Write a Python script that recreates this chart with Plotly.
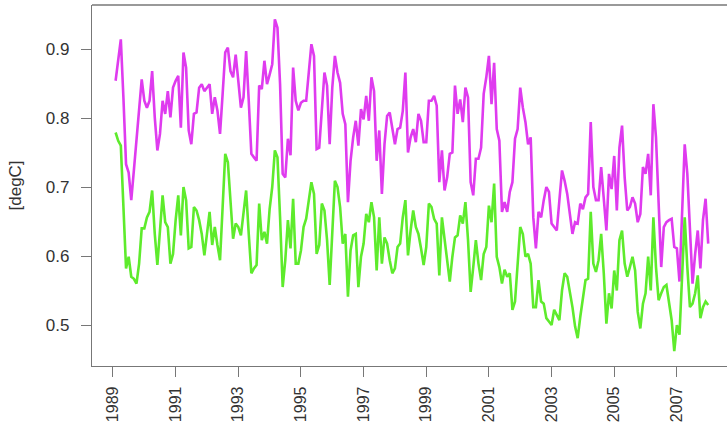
import numpy as np
import plotly.graph_objects as go

start_year = 1989
freq = 12

# Magenta series (monthly, from Feb 1989)
series_magenta = [
    0.854, 0.887, 0.914, 0.829, 0.733, 0.721, 0.681, 0.724, 0.772, 0.815, 0.856, 0.825,
    0.815, 0.825, 0.868, 0.801, 0.753, 0.777, 0.825, 0.806, 0.839, 0.801, 0.844, 0.854,
    0.861, 0.786, 0.895, 0.873, 0.782, 0.762, 0.806, 0.808, 0.844, 0.849, 0.839, 0.844,
    0.849, 0.806, 0.830, 0.811, 0.777, 0.835, 0.895, 0.902, 0.868, 0.859, 0.892, 0.854,
    0.815, 0.830, 0.897, 0.825, 0.748, 0.743, 0.738, 0.847, 0.842, 0.883, 0.849, 0.863,
    0.878, 0.943, 0.931, 0.849, 0.719, 0.714, 0.770, 0.746, 0.873, 0.825, 0.811, 0.822,
    0.825, 0.825, 0.863, 0.907, 0.890, 0.755, 0.757, 0.815, 0.866, 0.847, 0.762, 0.844,
    0.890, 0.866, 0.851, 0.806, 0.791, 0.678, 0.738, 0.772, 0.796, 0.760, 0.813, 0.798,
    0.832, 0.796, 0.859, 0.839, 0.738, 0.782, 0.690, 0.762, 0.803, 0.808, 0.782, 0.762,
    0.784, 0.786, 0.810, 0.866, 0.750, 0.772, 0.784, 0.765, 0.806, 0.796, 0.765, 0.765,
    0.825, 0.825, 0.832, 0.818, 0.707, 0.753, 0.695, 0.714, 0.748, 0.750, 0.847, 0.806,
    0.827, 0.794, 0.844, 0.830, 0.707, 0.688, 0.741, 0.741, 0.757, 0.835, 0.859, 0.890,
    0.820, 0.880, 0.784, 0.767, 0.664, 0.678, 0.664, 0.693, 0.707, 0.770, 0.784, 0.844,
    0.815, 0.794, 0.762, 0.772, 0.656, 0.611, 0.664, 0.656, 0.681, 0.700, 0.693, 0.647,
    0.642, 0.637, 0.681, 0.724, 0.709, 0.690, 0.661, 0.632, 0.649, 0.647, 0.676, 0.668,
    0.685, 0.690, 0.794, 0.700, 0.681, 0.681, 0.729, 0.676, 0.637, 0.719, 0.697, 0.745,
    0.666, 0.757, 0.789, 0.714, 0.666, 0.671, 0.685, 0.676, 0.649, 0.661, 0.729, 0.719,
    0.748, 0.688, 0.820, 0.772, 0.671, 0.584, 0.642, 0.649, 0.652, 0.654, 0.613, 0.611,
    0.563, 0.656, 0.762, 0.719, 0.642, 0.560, 0.603, 0.637, 0.582, 0.652, 0.683, 0.618,
]

# Green series
series_green = [
    0.779, 0.767, 0.760, 0.670, 0.582, 0.599, 0.570, 0.567, 0.560, 0.589, 0.640, 0.640,
    0.656, 0.664, 0.695, 0.632, 0.587, 0.637, 0.688, 0.649, 0.642, 0.589, 0.603, 0.652,
    0.688, 0.630, 0.700, 0.681, 0.611, 0.613, 0.671, 0.666, 0.652, 0.632, 0.601, 0.632,
    0.664, 0.616, 0.642, 0.616, 0.594, 0.671, 0.748, 0.736, 0.676, 0.625, 0.647, 0.642,
    0.630, 0.661, 0.695, 0.632, 0.575, 0.582, 0.587, 0.676, 0.623, 0.635, 0.618, 0.668,
    0.700, 0.753, 0.743, 0.656, 0.555, 0.594, 0.652, 0.611, 0.683, 0.589, 0.589, 0.608,
    0.642, 0.654, 0.681, 0.707, 0.690, 0.603, 0.616, 0.676, 0.666, 0.623, 0.558, 0.632,
    0.709, 0.700, 0.671, 0.618, 0.632, 0.541, 0.608, 0.630, 0.632, 0.555, 0.599, 0.618,
    0.661, 0.649, 0.678, 0.656, 0.579, 0.656, 0.589, 0.627, 0.618, 0.594, 0.575, 0.582,
    0.613, 0.618, 0.656, 0.681, 0.601, 0.637, 0.666, 0.642, 0.632, 0.611, 0.587, 0.613,
    0.676, 0.671, 0.654, 0.647, 0.572, 0.656, 0.623, 0.589, 0.563, 0.599, 0.627, 0.630,
    0.659, 0.647, 0.678, 0.623, 0.548, 0.584, 0.623, 0.589, 0.565, 0.603, 0.613, 0.673,
    0.649, 0.705, 0.599, 0.584, 0.560, 0.580, 0.570, 0.575, 0.522, 0.534, 0.589, 0.642,
    0.632, 0.599, 0.603, 0.589, 0.526, 0.526, 0.565, 0.534, 0.531, 0.510, 0.505, 0.500,
    0.522, 0.514, 0.507, 0.550, 0.575, 0.570, 0.550, 0.526, 0.498, 0.481, 0.512, 0.536,
    0.565, 0.567, 0.664, 0.589, 0.577, 0.594, 0.632, 0.575, 0.502, 0.546, 0.524, 0.579,
    0.550, 0.623, 0.637, 0.589, 0.570, 0.584, 0.599, 0.579, 0.519, 0.495, 0.531, 0.546,
    0.599, 0.550, 0.656, 0.584, 0.536, 0.546, 0.555, 0.558, 0.531, 0.507, 0.462, 0.500,
    0.486, 0.575, 0.656, 0.584, 0.526, 0.531, 0.546, 0.572, 0.510, 0.526, 0.534, 0.529,
]

x_tick_vals = [1989, 1991, 1993, 1995, 1997, 1999, 2001, 2003, 2005, 2007]
y_tick_vals = [0.5, 0.6, 0.7, 0.8, 0.9]
y_title = "[degC]"

t = start_year + (np.arange(len(series_magenta)) + 1) / freq

fig = go.Figure()
fig.add_trace(go.Scatter(x=t, y=series_magenta, mode="lines",
                         line=dict(color="#DF3BEF", width=2.6), showlegend=False))
fig.add_trace(go.Scatter(x=t, y=series_green, mode="lines",
                         line=dict(color="#5EEB2C", width=2.6), showlegend=False))

font = dict(family="Liberation Sans, Arial, sans-serif", size=17, color="#333333")
xfont = dict(family="Liberation Sans, Arial, sans-serif", size=16, color="#333333")
axis_col = "#777777"

fig.update_layout(
    width=727, height=425,
    margin=dict(l=92, r=0, t=5, b=59),
    paper_bgcolor="white", plot_bgcolor="white",
    font=font,
    xaxis=dict(range=[1988.33, 2008.60], tickvals=x_tick_vals,
               ticktext=[str(v) for v in x_tick_vals], tickangle=-90,
               showgrid=False, zeroline=False, showline=True, linecolor=axis_col,
               linewidth=1.3, ticks="outside", ticklen=10, tickcolor=axis_col,
               tickwidth=1.2, ticklabelstandoff=3, tickfont=xfont, automargin=False),
    yaxis=dict(range=[0.4406, 0.9638], tickvals=y_tick_vals,
               ticktext=["0.5", "0.6", "0.7", "0.8", "0.9"],
               showgrid=False, zeroline=False, showline=True, linecolor=axis_col,
               linewidth=1.3, ticks="outside", ticklen=10, tickcolor=axis_col,
               tickwidth=1.2, ticklabelstandoff=8, tickfont=font, automargin=False),
    shapes=[dict(type="line", xref="paper", yref="paper", x0=0, x1=1, y0=1, y1=1,
                 line=dict(color=axis_col, width=1.3))],
    annotations=[dict(text=y_title, xref="paper", yref="paper", x=0, y=0.5,
                      xanchor="center", yanchor="middle", xshift=-77,
                      textangle=-90, showarrow=False, font=font)],
)

fig.write_html("out.html")
